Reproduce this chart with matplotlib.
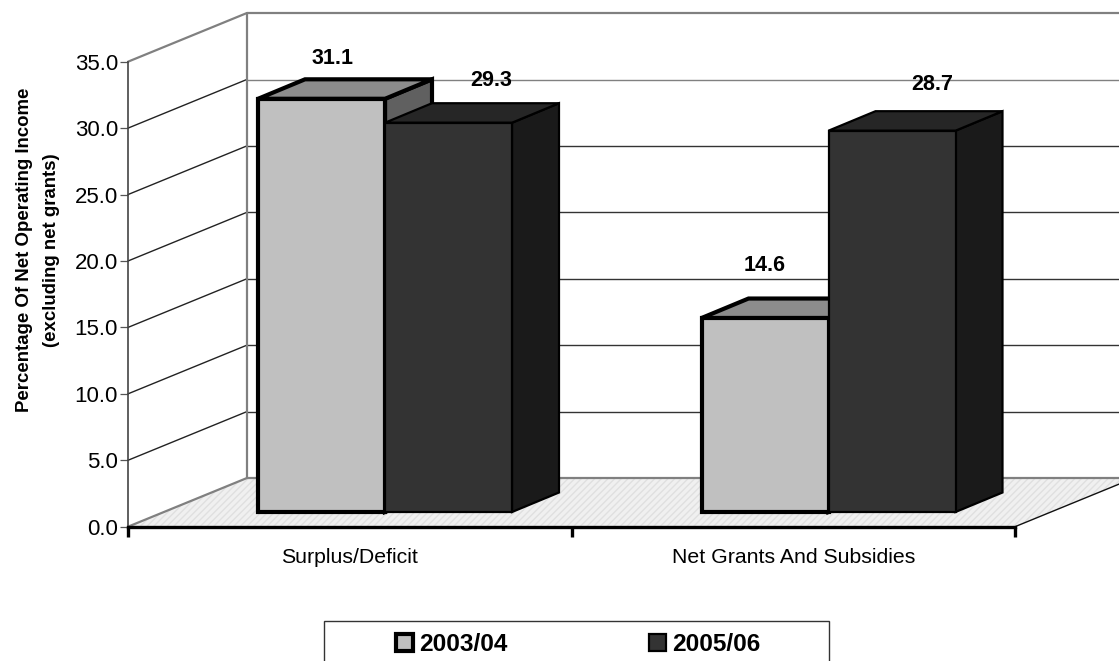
import matplotlib
matplotlib.use("Agg")
import matplotlib.pyplot as plt
from matplotlib.patches import Polygon, Rectangle

plt.rcParams['font.family'] = ['Liberation Sans', 'DejaVu Sans']
plt.rcParams['hatch.linewidth'] = 1.0

categories = ["Surplus/Deficit", "Net Grants And Subsidies"]
series_names = ["2003/04", "2005/06"]
values_0304 = [31.1, 14.6]
values_0506 = [29.3, 28.7]
y_ticks = [0, 5, 10, 15, 20, 25, 30, 35]

# front, top, side colours for each series
colors_0304 = ("#c0c0c0", "#8c8c8c", "#606060")
colors_0506 = ("#333333", "#262626", "#1a1a1a")

W, H = 1119, 661
fig = plt.figure(figsize=(W / 100, H / 100), dpi=100)
ax = fig.add_axes([128 / W, (H - 526.7) / H, 887 / W, 465 / H])
ax.set_xlim(0, 2)
ax.set_ylim(0, 35)

# pixel sizes turned into data units
px_x = 2 / 887
px_y = 35 / 465
wall_dx = 118.5 * px_x
wall_dy = 48.5 * px_y
bar_dx = 47 * px_x
bar_dy = 19.5 * px_y
bar_w = 127 * px_x
bar_left = 130 * px_x
bar_base = 14.7 * px_y
wall_end = 2 + wall_dx


def add_poly(pts, **kw):
    p = Polygon(pts, closed=True, clip_on=False, **kw)
    ax.add_patch(p)
    return p


def line(xs, ys, **kw):
    ax.plot(xs, ys, clip_on=False, solid_capstyle='round', **kw)


# floor
add_poly([(0, 0), (wall_dx, wall_dy), (wall_end, wall_dy), (2, 0)],
         facecolor="#f0f0f0", edgecolor="#e0e0e0", hatch="/////", lw=0, zorder=1)

# gridlines on side wall and back wall
for t in y_ticks[1:]:
    col = "#808080" if t >= 30 else "#333333"
    lw = 1.6 if t == 35 else 1.0
    line([0, wall_dx], [t, t + wall_dy], color="#808080" if t == 35 else "#222222",
         lw=lw, zorder=2)
    line([wall_dx, wall_end], [t + wall_dy, t + wall_dy], color=col, lw=lw, zorder=2)

# wall outlines
line([wall_dx, wall_dx], [wall_dy, 35 + wall_dy], color="#808080", lw=1.6, zorder=2)
line([0, wall_dx], [0, wall_dy], color="#808080", lw=1.6, zorder=2)
line([wall_dx, wall_end], [wall_dy, wall_dy], color="#808080", lw=1.6, zorder=2)
line([2, wall_end], [0, wall_dy], color="#111111", lw=1.0, zorder=2)


def draw_bar(x, val, cols, lw, z):
    y0 = bar_base
    y1 = bar_base + val
    x1 = x + bar_w
    kw = dict(edgecolor="black", lw=lw, joinstyle='miter', zorder=z)
    add_poly([(x1, y0), (x1 + bar_dx, y0 + bar_dy), (x1 + bar_dx, y1 + bar_dy), (x1, y1)],
             facecolor=cols[2], **kw)
    add_poly([(x, y1), (x + bar_dx, y1 + bar_dy), (x1 + bar_dx, y1 + bar_dy), (x1, y1)],
             facecolor=cols[1], **kw)
    add_poly([(x, y0), (x1, y0), (x1, y1), (x, y1)], facecolor=cols[0], **kw)


for i in range(len(categories)):
    draw_bar(i + bar_left, values_0304[i], colors_0304, 3.0, 3 + i)
    draw_bar(i + bar_left + bar_w, values_0506[i], colors_0506, 1.6, 3.5 + i)

# data labels, Excel puts them a bit off the bars
label_shift_0304 = [(11, 40), (0, 53)]
label_shift_0506 = [(43, 42), (40, 46)]
for i in range(len(categories)):
    xc = i + bar_left + bar_w / 2
    ax.annotate(f"{values_0304[i]:.1f}", (xc, bar_base + values_0304[i]),
                xytext=label_shift_0304[i], textcoords="offset pixels",
                ha="center", va="center", fontsize=15.5, fontweight="bold", zorder=10,
                annotation_clip=False)
    ax.annotate(f"{values_0506[i]:.1f}", (xc + bar_w, bar_base + values_0506[i]),
                xytext=label_shift_0506[i], textcoords="offset pixels",
                ha="center", va="center", fontsize=15.5, fontweight="bold", zorder=10,
                annotation_clip=False)

# axes
for s in ("top", "right"):
    ax.spines[s].set_visible(False)
ax.patch.set_visible(False)
ax.spines["left"].set_linewidth(1.2)
ax.spines["left"].set_color("#444444")
ax.spines["left"].set_zorder(2)
ax.spines["bottom"].set_linewidth(2.4)
ax.spines["bottom"].set_zorder(9)
ax.set_yticks(y_ticks)
ax.set_yticklabels([f"{t:.1f}" for t in y_ticks], fontsize=16)
ax.tick_params(axis="y", length=6, width=0.9, pad=1.2, color="#555555")
ax.set_xticks([0, 1, 2])
ax.set_xticklabels(["", "", ""])
ax.tick_params(axis="x", which="major", length=7, width=2.4)
ax.set_xticks([0.5, 1.5], minor=True)
ax.set_xticklabels(categories, minor=True, fontsize=15.3)
ax.tick_params(axis="x", which="minor", length=0, pad=15.5)

ax.set_ylabel("Percentage Of Net Operating Income\n(excluding net grants)",
              fontsize=13.4, fontweight="bold", linespacing=1.8)
ax.yaxis.set_label_coords(-0.0767, 0.595)

# legend, its frame runs off the bottom of the picture
frame = Rectangle((324 / W, -10 / H), 505 / W, (H - 621 + 10) / H, transform=fig.transFigure,
                  facecolor="white", edgecolor="#333333", lw=1.0)
fig.add_artist(frame)
handles = [Rectangle((0, 0), 1, 1, facecolor=colors_0304[0], edgecolor="black", lw=3.0),
           Rectangle((0, 0), 1, 1, facecolor=colors_0506[0], edgecolor="black", lw=1.6)]
leg = fig.legend(handles, series_names, ncol=2, frameon=False,
                 loc="center left", bbox_to_anchor=(396 / W, (H - 644.5) / H),
                 prop={"size": 17.6, "weight": "bold"}, handlelength=0.7, handleheight=0.7,
                 handletextpad=0.24, columnspacing=5.8, borderpad=0, borderaxespad=0)

fig.savefig("out.png", dpi=100)
